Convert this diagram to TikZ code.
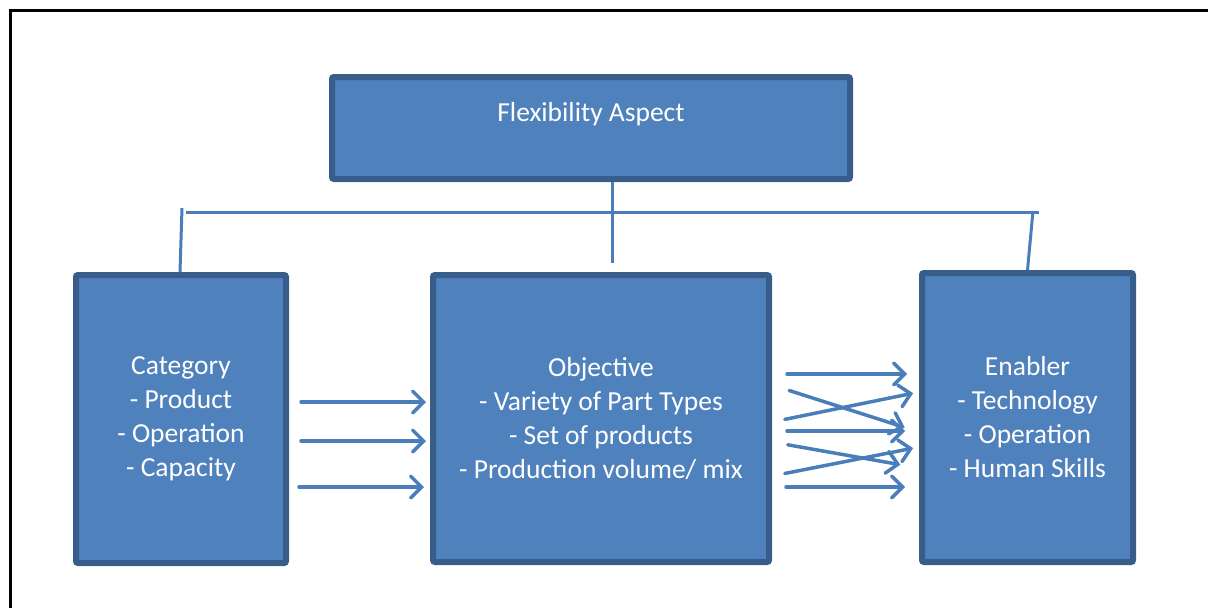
\documentclass[tikz,border=0pt]{standalone}
\usepackage{fontspec}
\setmainfont{Carlito}
\usetikzlibrary{positioning, arrows.meta, calc}
\definecolor{boxfill}{HTML}{4F81BD}
\definecolor{boxline}{HTML}{385D8A}
\definecolor{linkblue}{HTML}{4A7EBB}

\tikzset{
    block/.style={draw=boxline, fill=boxfill, line width=6pt, rounded corners=2pt,
        text=white, align=center, inner sep=0pt,
        font=\fontsize{27.5}{34}\selectfont},
    link/.style={draw=linkblue, line width=3pt},
    flow/.style={draw=linkblue, line width=3.5pt, line cap=round,
        -{Straight Barb[length=11pt, width=22pt, line cap=round]}}
}

\begin{document}
\begin{tikzpicture}[x=1pt, y=-1pt]
    \useasboundingbox (0,0) rectangle (1208,608);

    % frame
    \draw[black, line width=3pt] (10,608) -- (10,10) -- (1208,10);

    % boxes
    \node[block, minimum width=518pt, minimum height=102pt, text depth=33pt] (aspect) at (591,128)
        {Flexibility Aspect};
    \node[block, minimum width=210pt, minimum height=288pt] (category) at (181,419)
        {Category\\- Product\\- Operation\\- Capacity};
    \node[block, minimum width=336pt, minimum height=287pt] (objective) at (601,418.5)
        {Objective\\- Variety of Part Types\\- Set of products\\- Production volume/ mix};
    \node[block, minimum width=211pt, minimum height=289pt] (enabler) at (1027.5,417.5)
        {Enabler\\- Technology\\- Operation\\- Human Skills};

    % tree
    \coordinate (barL) at (186,212);
    \coordinate (barR) at (1039,212);
    \coordinate (legL) at (182,208);
    \coordinate (legM) at (612,263);
    \coordinate (legR) at (1033,211);

    \draw[link] (barL) -- (barR);
    \draw[link] (legL) -- ([xshift=-1pt]category.north);
    \draw[link] (aspect.south -| legM) -- (legM);
    \draw[link] (legR) -- (enabler.north);

    % category -> objective
    \foreach \y/\sa/\sb in {402/12/4, 441/12/4, 487/10/6}
    {
        \draw[flow, shorten <=\sa pt, shorten >=\sb pt]
            (category.east |- 0,\y) -- (objective.west |- 0,\y);
    }

    % objective -> enabler
    \foreach \ya/\yb/\sa/\sb in {
        374/374/15/12,
        385/432/18/15,
        422/392/13/6,
        431/431/15/14,
        442/468/16/19,
        476/447/13/6,
        487/487/14/14}
    {
        \draw[flow, shorten <=\sa pt, shorten >=\sb pt]
            (objective.east |- 0,\ya) -- (enabler.west |- 0,\yb);
    }
\end{tikzpicture}
\end{document}
